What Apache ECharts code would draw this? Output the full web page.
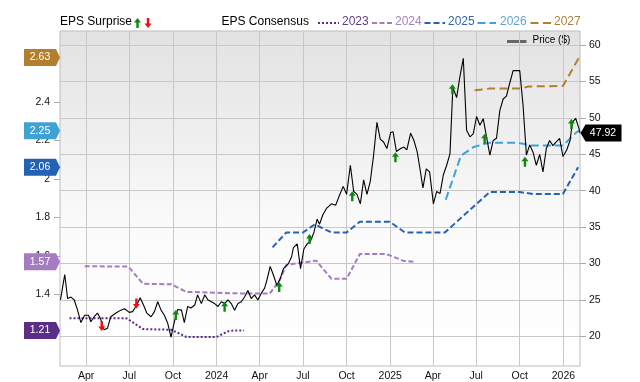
<!DOCTYPE html>
<html><head><meta charset="utf-8">
<script src="https://cdn.jsdelivr.net/npm/echarts@6/dist/echarts.min.js"></script>
<style>html,body{margin:0;padding:0;background:#fff}#c{width:640px;height:382px}</style>
</head><body><div id="c"></div>
<script>
// ---------- data ----------
const xRange = ['2023-02-05', '2026-02-05'];
const quarterTicks = ['2023-04-01','2023-07-01','2023-10-01','2024-01-01','2024-04-01','2024-07-01','2024-10-01','2025-01-01','2025-04-01','2025-07-01','2025-10-01','2026-01-01'];
const monthNames = ['Jan','Feb','Mar','Apr','May','Jun','Jul','Aug','Sep','Oct','Nov','Dec'];
const priceTicks = [20,25,30,35,40,45,50,55,60];
const epsTicks = [1.2,1.4,1.6,1.8,2.0,2.2,2.4];
const priceRange = [15.93, 61.94];
const epsRange = [1.0292, 2.7677];

const price = [['2023-02-06',25.0],['2023-02-15',28.5],['2023-02-21',25.2],['2023-02-28',25.4],['2023-03-07',25.0],['2023-03-14',23.6],['2023-03-21',21.9],['2023-03-29',22.9],['2023-04-06',22.9],['2023-04-11',22.0],['2023-04-18',22.7],['2023-04-25',23.2],['2023-05-01',22.5],['2023-05-09',20.9],['2023-05-16',21.1],['2023-05-23',22.7],['2023-06-03',23.2],['2023-06-13',23.6],['2023-06-21',23.8],['2023-07-01',23.3],['2023-07-08',23.4],['2023-07-15',24.1],['2023-07-24',25.3],['2023-07-31',24.3],['2023-08-07',23.2],['2023-08-16',22.7],['2023-08-23',23.4],['2023-08-30',24.75],['2023-09-06',23.6],['2023-09-13',22.9],['2023-09-20',21.8],['2023-09-27',19.9],['2023-10-04',22.0],['2023-10-11',23.7],['2023-10-19',23.6],['2023-10-25',21.9],['2023-11-01',24.1],['2023-11-08',23.9],['2023-11-16',24.3],['2023-11-22',25.7],['2023-11-30',24.5],['2023-12-07',25.7],['2023-12-14',25.0],['2023-12-21',24.75],['2023-12-28',24.5],['2024-01-04',24.1],['2024-01-11',24.75],['2024-01-18',24.5],['2024-01-25',25.0],['2024-02-01',24.5],['2024-02-08',23.6],['2024-02-15',24.5],['2024-02-22',24.75],['2024-02-29',25.4],['2024-03-07',26.3],['2024-03-14',25.2],['2024-03-21',25.7],['2024-03-28',25.0],['2024-04-04',25.9],['2024-04-11',26.6],['2024-04-16',27.7],['2024-04-23',29.6],['2024-04-30',28.4],['2024-05-07',27.0],['2024-05-14',27.9],['2024-05-21',29.3],['2024-05-31',29.95],['2024-06-07',30.9],['2024-06-11',32.2],['2024-06-19',32.7],['2024-06-26',29.3],['2024-07-03',32.0],['2024-07-10',32.7],['2024-07-17',33.1],['2024-07-24',34.25],['2024-07-31',36.1],['2024-08-05',35.4],['2024-08-12',36.7],['2024-08-20',37.6],['2024-08-25',37.9],['2024-08-30',38.2],['2024-09-08',38.0],['2024-09-15',39.2],['2024-09-24',40.6],['2024-10-01',39.5],['2024-10-09',43.5],['2024-10-16',39.9],['2024-10-23',39.5],['2024-10-30',38.2],['2024-11-06',41.5],['2024-11-13',39.5],['2024-11-20',41.3],['2024-11-27',44.9],['2024-12-04',49.4],['2024-12-11',47.1],['2024-12-18',46.7],['2024-12-25',45.8],['2025-01-02',48.0],['2025-01-07',48.1],['2025-01-14',45.4],['2025-01-23',45.8],['2025-01-30',46.0],['2025-02-05',45.6],['2025-02-13',47.9],['2025-02-20',46.9],['2025-02-27',45.3],['2025-03-04',43.3],['2025-03-11',40.4],['2025-03-18',43.0],['2025-03-25',42.6],['2025-04-02',38.2],['2025-04-09',39.9],['2025-04-16',39.6],['2025-04-23',42.2],['2025-04-30',43.5],['2025-05-07',45.1],['2025-05-13',54.2],['2025-05-21',52.8],['2025-05-28',55.7],['2025-06-04',58.2],['2025-06-11',48.3],['2025-06-18',47.4],['2025-06-25',47.8],['2025-07-02',50.2],['2025-07-09',49.0],['2025-07-16',49.9],['2025-07-23',47.4],['2025-07-30',44.9],['2025-08-06',46.9],['2025-08-13',47.2],['2025-08-20',51.0],['2025-08-27',52.6],['2025-09-03',53.0],['2025-09-10',54.8],['2025-09-17',56.5],['2025-09-25',56.5],['2025-10-01',56.5],['2025-10-08',51.7],['2025-10-15',44.9],['2025-10-22',46.3],['2025-10-29',45.3],['2025-11-05',43.5],['2025-11-12',45.0],['2025-11-19',42.6],['2025-11-26',45.8],['2025-12-03',46.9],['2025-12-10',46.2],['2025-12-17',46.7],['2025-12-24',47.2],['2025-12-31',44.7],['2026-01-08',45.6],['2026-01-15',46.9],['2026-01-20',49.4],['2026-01-27',49.95],['2026-02-03',48.5],['2026-02-05',47.92]];

const eps2023 = [['2023-02-25',1.277],['2023-06-25',1.277],['2023-07-30',1.221],['2023-09-28',1.217],['2023-10-29',1.18],['2024-01-01',1.18],['2024-01-25',1.209],['2024-02-08',1.214],['2024-02-28',1.214]];
const eps2024 = [['2023-03-29',1.547],['2023-06-29',1.545],['2023-07-30',1.456],['2023-09-28',1.453],['2023-10-29',1.414],['2024-02-29',1.405],['2024-04-22',1.405],['2024-05-13',1.474],['2024-05-27',1.554],['2024-07-29',1.576],['2024-08-30',1.482],['2024-10-01',1.482],['2024-10-29',1.61],['2024-12-24',1.61],['2025-01-28',1.576],['2025-02-22',1.57]];
const eps2025 = [['2024-04-28',1.645],['2024-05-27',1.722],['2024-07-01',1.722],['2024-07-26',1.764],['2024-08-30',1.722],['2024-10-01',1.722],['2024-10-29',1.778],['2024-12-31',1.778],['2025-02-01',1.722],['2025-04-26',1.722],['2025-07-30',1.932],['2025-10-01',1.932],['2025-10-29',1.922],['2025-12-31',1.922],['2026-02-01',2.06]];
const eps2026 = [['2025-04-28',1.892],['2025-05-30',2.12],['2025-06-26',2.166],['2025-07-28',2.188],['2025-09-27',2.188],['2025-10-26',2.174],['2025-12-31',2.174],['2026-01-29',2.243],['2026-02-04',2.25]];
const eps2027 = [['2025-06-28',2.46],['2025-07-30',2.469],['2025-10-05',2.469],['2025-10-19',2.48],['2025-12-31',2.482],['2026-02-03',2.63]];

const surpriseUp = [['2023-10-07',22.95],['2024-01-18',24.07],['2024-05-12',26.79],['2024-07-15',33.37],['2024-10-13',39.23],['2025-01-12',44.61],['2025-05-12',53.93],['2025-07-19',47.15],['2025-10-12',43.98],['2026-01-18',49.18]];
const surpriseDown = [['2023-05-04',21.43],['2023-07-16',24.52]];

// ---------- helpers ----------
function t(s){ const p = s.split('-').map(Number); return new Date(p[0], p[1]-1, p[2]).getTime(); }
const conv = arr => arr.map(d => [t(d[0]), d[1]]);
const FONT = '"Liberation Sans", Arial, Helvetica, sans-serif';

const epsStyles = [
  {name:'2023', data:eps2023, color:'#5a2d86', text:'#5b3c8e', dash:[2,2]},
  {name:'2024', data:eps2024, color:'#a57cc0', text:'#a183c2', dash:[5,2.5]},
  {name:'2025', data:eps2025, color:'#2462b3', text:'#3466b0', dash:[6,3]},
  {name:'2026', data:eps2026, color:'#3fa2d4', text:'#5ea4d2', dash:[8,4]},
  {name:'2027', data:eps2027, color:'#b37e2e', text:'#a8823f', dash:[8,4.5]}
];

const xMin = t(xRange[0]), xMax = t(xRange[1]);
const series = [];

epsStyles.forEach(s => {
  series.push({
    type:'line', name:s.name, data:conv(s.data), xAxisIndex:0, yAxisIndex:0,
    symbol:'none', silent:true, z:3,
    lineStyle:{color:s.color, width:2, type:s.dash}
  });
});

series.push({
  type:'line', name:'Price', data:conv(price), xAxisIndex:0, yAxisIndex:1,
  symbol:'none', silent:true, z:4, lineStyle:{color:'#000', width:1.1}
});

const upPath = 'path://M3.5,0 L7,4.5 L4.7,4.5 L4.7,10 L2.3,10 L2.3,4.5 L0,4.5 Z';
const downPath = 'path://M2.3,0 L4.7,0 L4.7,5.5 L7,5.5 L3.5,10 L0,5.5 L2.3,5.5 Z';
series.push({type:'scatter', data:conv(surpriseUp), yAxisIndex:1, symbol:upPath, symbolSize:[7,10], itemStyle:{color:'#0f870f', opacity:1}, z:5, silent:true});
series.push({type:'scatter', data:conv(surpriseDown), yAxisIndex:1, symbol:downPath, symbolSize:[7,10], itemStyle:{color:'#f01010', opacity:1}, z:5, silent:true});

// left badges with last consensus values
epsStyles.forEach(s => {
  const last = s.data[s.data.length-1][1];
  series.push({
    type:'scatter', data:[[xMin, last]], yAxisIndex:0, clip:false, silent:true, z:10,
    symbol:'path://M0,0 L32,0 L36,8.5 L32,17 L0,17 Z', symbolSize:[36,17], symbolOffset:[-18,0],
    itemStyle:{color:s.color, opacity:1},
    label:{show:true, position:'inside', offset:[-2,0], color:'#fff', fontSize:10.5, fontFamily:FONT,
      formatter: p => p.value[1].toFixed(2)}
  });
});
// right price badge
const lastPrice = price[price.length-1][1];
series.push({
  type:'scatter', data:[[xMax, lastPrice]], yAxisIndex:1, clip:false, silent:true, z:10,
  symbol:'path://M0,8.5 L5,0 L41,0 L41,17 L5,17 Z', symbolSize:[41,17], symbolOffset:[21,0],
  itemStyle:{color:'#000', opacity:1},
  label:{show:true, position:'inside', offset:[2,0], color:'#fff', fontSize:10.5, fontFamily:FONT,
    formatter: p => p.value[1].toFixed(2)}
});

// ---------- legend graphics ----------
const graphic = [];
const LY = 23;
graphic.push({type:'text', left:60, top:LY-7, style:{text:'EPS Surprise', fill:'#000', font:'12px '+FONT}});
graphic.push({type:'polygon', shape:{points:[[137.5,18],[141,22.5],[138.7,22.5],[138.7,28],[136.3,28],[136.3,22.5],[134,22.5]]}, style:{fill:'#0f870f'}});
graphic.push({type:'polygon', shape:{points:[[146.8,18],[149.2,18],[149.2,23.5],[151.5,23.5],[148,28],[144.5,23.5],[146.8,23.5]]}, style:{fill:'#f01010'}});
graphic.push({type:'text', left:221.5, top:LY-7, style:{text:'EPS Consensus', fill:'#000', font:'12px '+FONT}});
const legX = [[318,339,342],[372,393,395],[424.5,445,448],[477.5,496,500],[530.5,551,554]];
epsStyles.forEach((s,i) => {
  const L = legX[i];
  graphic.push({type:'line', shape:{x1:L[0], y1:LY, x2:L[1], y2:LY}, style:{stroke:s.color, lineWidth:2, lineDash:s.dash}});
  graphic.push({type:'text', left:L[2], top:LY-7, style:{text:s.name, fill:s.text, font:'12px '+FONT}});
});
graphic.push({type:'line', shape:{x1:507, y1:41.5, x2:526.5, y2:41.5}, style:{stroke:'#666', lineWidth:3}});
graphic.push({type:'text', left:532.5, top:35.5, style:{text:'Price ($)', fill:'#000', font:'10px '+FONT}});

// ---------- chart ----------
const qTicks = quarterTicks.map(t);
const chart = echarts.init(document.getElementById('c'), null, {renderer:'canvas'});
chart.setOption({
  animation:false,
  backgroundColor:'#fff',
  textStyle:{fontFamily:FONT},
  grid:{left:60, right:60, top:31, bottom:12, show:true, borderColor:'#bdbdbd', borderWidth:1,
    backgroundColor:{type:'linear', x:0, y:0, x2:0, y2:1, colorStops:[{offset:0,color:'#e2e2e2'},{offset:0.6,color:'#fbfbfb'},{offset:1,color:'#ffffff'}]}},
  xAxis:[{
    type:'value', min:xMin, max:xMax, scale:true,
    axisLine:{show:false},
    axisTick:{show:false, customValues:qTicks},
    splitLine:{show:true, lineStyle:{color:'#c8c8c8', width:1}},
    axisLabel:{customValues:qTicks, margin:5, color:'#111', fontSize:10.5, fontFamily:FONT,
      formatter: v => { const d = new Date(v); return d.getMonth()===0 ? String(d.getFullYear()) : monthNames[d.getMonth()]; }}
  }],
  yAxis:[{
    type:'value', position:'left', min:epsRange[0], max:epsRange[1],
    axisLine:{show:false}, splitLine:{show:false},
    axisTick:{show:true, length:6, customValues:epsTicks, lineStyle:{color:'#aaa'}},
    axisLabel:{customValues:epsTicks, margin:10, color:'#111', fontSize:10.5, fontFamily:FONT,
      formatter: v => String(parseFloat(Number(v).toFixed(2)))}
  },{
    type:'value', position:'right', min:priceRange[0], max:priceRange[1],
    axisLine:{show:false},
    splitLine:{show:true, lineStyle:{color:'#c8c8c8', width:1}},
    axisTick:{show:true, length:6, customValues:priceTicks, lineStyle:{color:'#aaa'}},
    axisLabel:{customValues:priceTicks, margin:9, color:'#111', fontSize:10.5, fontFamily:FONT}
  }],
  series: series,
  graphic: graphic
});
</script></body></html>
